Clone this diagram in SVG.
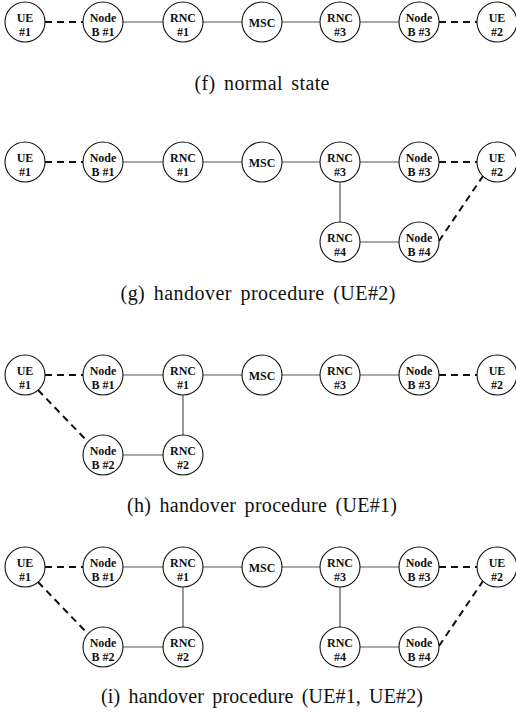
<svg xmlns="http://www.w3.org/2000/svg" width="516" height="719" viewBox="0 0 516 719">
  <style>
    .bg { fill: #ffffff; }
    .node circle { fill: #ffffff; stroke: #111111; stroke-width: 1.1; }
    .node text { font-family: "Liberation Serif", "Times New Roman", serif; font-weight: bold; font-size: 12px; fill: #111111; text-anchor: middle; }
    .link { stroke: #555555; stroke-width: 1.2; fill: none; }
    .radio { stroke: #111111; stroke-width: 2; stroke-dasharray: 7 5; fill: none; }
    .caption { font-family: "Liberation Serif", "Times New Roman", serif; font-size: 20px; word-spacing: 3px; fill: #111111; text-anchor: middle; }
  </style>
  <rect class="bg" x="0" y="0" width="516" height="719"/>

  <!-- (f) normal state: single chain, row centre y=22 -->
  <g id="panel-f" transform="translate(0,22)">
    <g id="f-connectors">
      <line class="radio" x1="45" y1="0" x2="83" y2="0"/>
      <line class="link" x1="123" y1="0" x2="163" y2="0"/>
      <line class="link" x1="203" y1="0" x2="242" y2="0"/>
      <line class="link" x1="282" y1="0" x2="320" y2="0"/>
      <line class="link" x1="360" y1="0" x2="399" y2="0"/>
      <line class="radio" x1="439" y1="0" x2="477" y2="0"/>
    </g>
    <g id="f-ue1" class="node"><circle cx="25" cy="0" r="20"/><text x="25" y="0">UE</text><text x="25" y="14">#1</text></g>
    <g id="f-nodeb1" class="node"><circle cx="103" cy="0" r="20"/><text x="103" y="0">Node</text><text x="103" y="14">B #1</text></g>
    <g id="f-rnc1" class="node"><circle cx="183" cy="0" r="20"/><text x="183" y="0">RNC</text><text x="183" y="14">#1</text></g>
    <g id="f-msc" class="node"><circle cx="262" cy="0" r="20"/><text x="262" y="5">MSC</text></g>
    <g id="f-rnc3" class="node"><circle cx="340" cy="0" r="20"/><text x="340" y="0">RNC</text><text x="340" y="14">#3</text></g>
    <g id="f-nodeb3" class="node"><circle cx="419" cy="0" r="20"/><text x="419" y="0">Node</text><text x="419" y="14">B #3</text></g>
    <g id="f-ue2" class="node"><circle cx="497" cy="0" r="20"/><text x="497" y="0">UE</text><text x="497" y="14">#2</text></g>
  </g>
  <text class="caption" x="262" y="90" textLength="135" lengthAdjust="spacing">(f) normal state</text>

  <!-- (g) UE#2 handover: extra RNC #4 / Node B #4 branch -->
  <g id="panel-g" transform="translate(0,162)">
    <g id="g-connectors">
      <line class="radio" x1="45" y1="0" x2="83" y2="0"/>
      <line class="link" x1="123" y1="0" x2="163" y2="0"/>
      <line class="link" x1="203" y1="0" x2="242" y2="0"/>
      <line class="link" x1="282" y1="0" x2="320" y2="0"/>
      <line class="link" x1="360" y1="0" x2="399" y2="0"/>
      <line class="radio" x1="439" y1="0" x2="477" y2="0"/>
      <line class="link" x1="340" y1="20" x2="340" y2="60"/>
      <line class="link" x1="360" y1="80" x2="399" y2="80"/>
      <line class="radio" x1="439" y1="79" x2="483" y2="14"/>
    </g>
    <g id="g-ue1" class="node"><circle cx="25" cy="0" r="20"/><text x="25" y="0">UE</text><text x="25" y="14">#1</text></g>
    <g id="g-nodeb1" class="node"><circle cx="103" cy="0" r="20"/><text x="103" y="0">Node</text><text x="103" y="14">B #1</text></g>
    <g id="g-rnc1" class="node"><circle cx="183" cy="0" r="20"/><text x="183" y="0">RNC</text><text x="183" y="14">#1</text></g>
    <g id="g-msc" class="node"><circle cx="262" cy="0" r="20"/><text x="262" y="5">MSC</text></g>
    <g id="g-rnc3" class="node"><circle cx="340" cy="0" r="20"/><text x="340" y="0">RNC</text><text x="340" y="14">#3</text></g>
    <g id="g-nodeb3" class="node"><circle cx="419" cy="0" r="20"/><text x="419" y="0">Node</text><text x="419" y="14">B #3</text></g>
    <g id="g-ue2" class="node"><circle cx="497" cy="0" r="20"/><text x="497" y="0">UE</text><text x="497" y="14">#2</text></g>
    <g id="g-rnc4" class="node"><circle cx="340" cy="80" r="20"/><text x="340" y="80">RNC</text><text x="340" y="94">#4</text></g>
    <g id="g-nodeb4" class="node"><circle cx="419" cy="80" r="20"/><text x="419" y="80">Node</text><text x="419" y="94">B #4</text></g>
  </g>
  <text class="caption" x="258" y="300" textLength="275" lengthAdjust="spacing">(g) handover procedure (UE#2)</text>

  <!-- (h) UE#1 handover: extra Node B #2 / RNC #2 branch -->
  <g id="panel-h" transform="translate(0,375)">
    <g id="h-connectors">
      <line class="radio" x1="45" y1="0" x2="83" y2="0"/>
      <line class="link" x1="123" y1="0" x2="163" y2="0"/>
      <line class="link" x1="203" y1="0" x2="242" y2="0"/>
      <line class="link" x1="282" y1="0" x2="320" y2="0"/>
      <line class="link" x1="360" y1="0" x2="399" y2="0"/>
      <line class="radio" x1="439" y1="0" x2="477" y2="0"/>
      <line class="radio" x1="38" y1="15" x2="89" y2="68"/>
      <line class="link" x1="123" y1="80" x2="163" y2="80"/>
      <line class="link" x1="183" y1="20" x2="183" y2="60"/>
    </g>
    <g id="h-ue1" class="node"><circle cx="25" cy="0" r="20"/><text x="25" y="0">UE</text><text x="25" y="14">#1</text></g>
    <g id="h-nodeb1" class="node"><circle cx="103" cy="0" r="20"/><text x="103" y="0">Node</text><text x="103" y="14">B #1</text></g>
    <g id="h-rnc1" class="node"><circle cx="183" cy="0" r="20"/><text x="183" y="0">RNC</text><text x="183" y="14">#1</text></g>
    <g id="h-msc" class="node"><circle cx="262" cy="0" r="20"/><text x="262" y="5">MSC</text></g>
    <g id="h-rnc3" class="node"><circle cx="340" cy="0" r="20"/><text x="340" y="0">RNC</text><text x="340" y="14">#3</text></g>
    <g id="h-nodeb3" class="node"><circle cx="419" cy="0" r="20"/><text x="419" y="0">Node</text><text x="419" y="14">B #3</text></g>
    <g id="h-ue2" class="node"><circle cx="497" cy="0" r="20"/><text x="497" y="0">UE</text><text x="497" y="14">#2</text></g>
    <g id="h-nodeb2" class="node"><circle cx="103" cy="80" r="20"/><text x="103" y="80">Node</text><text x="103" y="94">B #2</text></g>
    <g id="h-rnc2" class="node"><circle cx="183" cy="80" r="20"/><text x="183" y="80">RNC</text><text x="183" y="94">#2</text></g>
  </g>
  <text class="caption" x="262" y="512" textLength="270" lengthAdjust="spacing">(h) handover procedure (UE#1)</text>

  <!-- (i) both UEs in handover -->
  <g id="panel-i" transform="translate(0,567)">
    <g id="i-connectors">
      <line class="radio" x1="45" y1="0" x2="83" y2="0"/>
      <line class="link" x1="123" y1="0" x2="163" y2="0"/>
      <line class="link" x1="203" y1="0" x2="242" y2="0"/>
      <line class="link" x1="282" y1="0" x2="320" y2="0"/>
      <line class="link" x1="360" y1="0" x2="399" y2="0"/>
      <line class="radio" x1="439" y1="0" x2="477" y2="0"/>
      <line class="radio" x1="38" y1="15" x2="89" y2="68"/>
      <line class="link" x1="123" y1="80" x2="163" y2="80"/>
      <line class="link" x1="183" y1="20" x2="183" y2="60"/>
      <line class="link" x1="340" y1="20" x2="340" y2="60"/>
      <line class="link" x1="360" y1="80" x2="399" y2="80"/>
      <line class="radio" x1="439" y1="79" x2="483" y2="14"/>
    </g>
    <g id="i-ue1" class="node"><circle cx="25" cy="0" r="20"/><text x="25" y="0">UE</text><text x="25" y="14">#1</text></g>
    <g id="i-nodeb1" class="node"><circle cx="103" cy="0" r="20"/><text x="103" y="0">Node</text><text x="103" y="14">B #1</text></g>
    <g id="i-rnc1" class="node"><circle cx="183" cy="0" r="20"/><text x="183" y="0">RNC</text><text x="183" y="14">#1</text></g>
    <g id="i-msc" class="node"><circle cx="262" cy="0" r="20"/><text x="262" y="5">MSC</text></g>
    <g id="i-rnc3" class="node"><circle cx="340" cy="0" r="20"/><text x="340" y="0">RNC</text><text x="340" y="14">#3</text></g>
    <g id="i-nodeb3" class="node"><circle cx="419" cy="0" r="20"/><text x="419" y="0">Node</text><text x="419" y="14">B #3</text></g>
    <g id="i-ue2" class="node"><circle cx="497" cy="0" r="20"/><text x="497" y="0">UE</text><text x="497" y="14">#2</text></g>
    <g id="i-nodeb2" class="node"><circle cx="103" cy="80" r="20"/><text x="103" y="80">Node</text><text x="103" y="94">B #2</text></g>
    <g id="i-rnc2" class="node"><circle cx="183" cy="80" r="20"/><text x="183" y="80">RNC</text><text x="183" y="94">#2</text></g>
    <g id="i-rnc4" class="node"><circle cx="340" cy="80" r="20"/><text x="340" y="80">RNC</text><text x="340" y="94">#4</text></g>
    <g id="i-nodeb4" class="node"><circle cx="419" cy="80" r="20"/><text x="419" y="80">Node</text><text x="419" y="94">B #4</text></g>
  </g>
  <text class="caption" x="262" y="703" textLength="322" lengthAdjust="spacing">(i) handover procedure (UE#1, UE#2)</text>
</svg>
